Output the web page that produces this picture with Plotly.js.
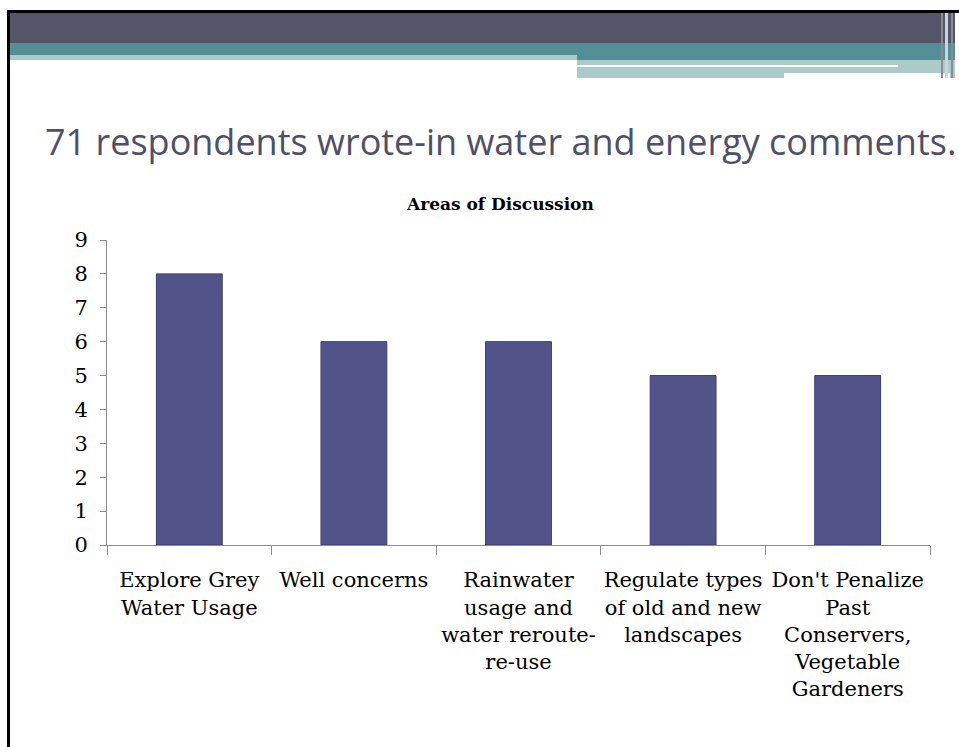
<!DOCTYPE html>
<html>
<head>
<meta charset="utf-8">
<script src="https://cdn.plot.ly/plotly-3.0.1.min.js"></script>
<style>
html,body{margin:0;padding:0;background:#fff;overflow:hidden;}
#chart{width:959px;height:747px;}
</style>
</head>
<body>
<div id="chart"></div>
<script>
const categories = [
  "Explore Grey<br>Water Usage",
  "Well concerns",
  "Rainwater<br>usage and<br>water reroute-<br>re-use",
  "Regulate types<br>of old and new<br>landscapes",
  "Don't Penalize<br>Past<br>Conservers,<br>Vegetable<br>Gardeners"
];
const counts = [8, 6, 6, 5, 5];
const yTicks = [0, 1, 2, 3, 4, 5, 6, 7, 8, 9];
const slideTitle = "71 respondents wrote-in water and energy comments.";
const chartTitle = "Areas of Discussion";

const W = 959, H = 747;
const PL = 107, PR = 930, PT = 240, PB = 545;
function px(x){ return (x - PL) / (PR - PL); }
function py(y){ return (PB - y) / (PB - PT); }
function rect(x0, y0, x1, y1, color){
  return {type:'rect', xref:'paper', yref:'paper', x0:px(x0), x1:px(x1), y0:py(y1), y1:py(y0),
          fillcolor:color, line:{width:0}, layer:'below'};
}

const shapes = [
  rect(7, 10, 959, 13, '#000000'),
  rect(7, 10, 10, 747, '#000000'),
  rect(10, 13, 959, 43, '#545568'),
  rect(10, 43, 959, 55, '#548f95'),
  rect(10, 55, 577, 60, '#abcbcb'),
  rect(577, 55, 955, 60, '#548f95'),
  rect(577, 60, 955, 78, '#abcbcb'),
  rect(577, 65, 898, 67, '#ffffff'),
  rect(784, 73, 950, 78, '#ffffff'),
  rect(941, 13, 943, 78, '#8a8a99'),
  rect(945, 13, 948, 78, '#c8d6d8'),
  rect(951, 13, 953, 78, '#8a8a99'),
  rect(955, 13, 959, 78, '#ffffff')
];

const trace = {
  type: 'bar',
  x: categories,
  y: counts,
  width: 0.4,
  marker: {color: '#525388', line: {color: '#3c3c6c', width: 1}},
  hoverinfo: 'skip'
};

const layout = {
  width: W, height: H,
  margin: {l: PL, r: W - PR, t: PT, b: H - PB, pad: 0},
  paper_bgcolor: '#ffffff',
  plot_bgcolor: '#ffffff',
  showlegend: false,
  font: {family: 'DejaVu Serif, Liberation Serif, serif', color: '#000000'},
  xaxis: {
    type: 'category',
    showgrid: false,
    showline: true, linecolor: '#8c8c8c', linewidth: 1,
    ticks: 'outside', ticklen: 9, tickcolor: '#8c8c8c',
    tickson: 'boundaries',
    tickfont: {family: 'DejaVu Serif, serif', size: 21, color: '#000000'},
    tickangle: 0,
    ticklabelstandoff: 16,
    automargin: false,
    fixedrange: true
  },
  yaxis: {
    range: [0, 9],
    tickvals: yTicks,
    showgrid: false, zeroline: false,
    showline: true, linecolor: '#8c8c8c', linewidth: 1,
    ticks: 'outside', ticklen: 6, tickcolor: '#8c8c8c',
    tickfont: {family: 'DejaVu Serif, serif', size: 21, color: '#000000'},
    ticklabelstandoff: 8,
    automargin: false,
    fixedrange: true
  },
  shapes: shapes,
  annotations: [
    {text: slideTitle, xref: 'paper', yref: 'paper', x: px(43), y: py(141),
     xanchor: 'left', yanchor: 'middle', showarrow: false,
     font: {family: 'Open Sans, sans-serif', size: 36, color: '#4f5066'}},
    {text: '<b>' + chartTitle + '</b>', xref: 'paper', yref: 'paper', x: px(500), y: py(204),
     xanchor: 'center', yanchor: 'middle', showarrow: false,
     font: {family: 'DejaVu Serif, serif', size: 17, color: '#000000'}}
  ]
};

Plotly.newPlot('chart', [trace], layout, {displayModeBar: false, staticPlot: true});
</script>
</body>
</html>
